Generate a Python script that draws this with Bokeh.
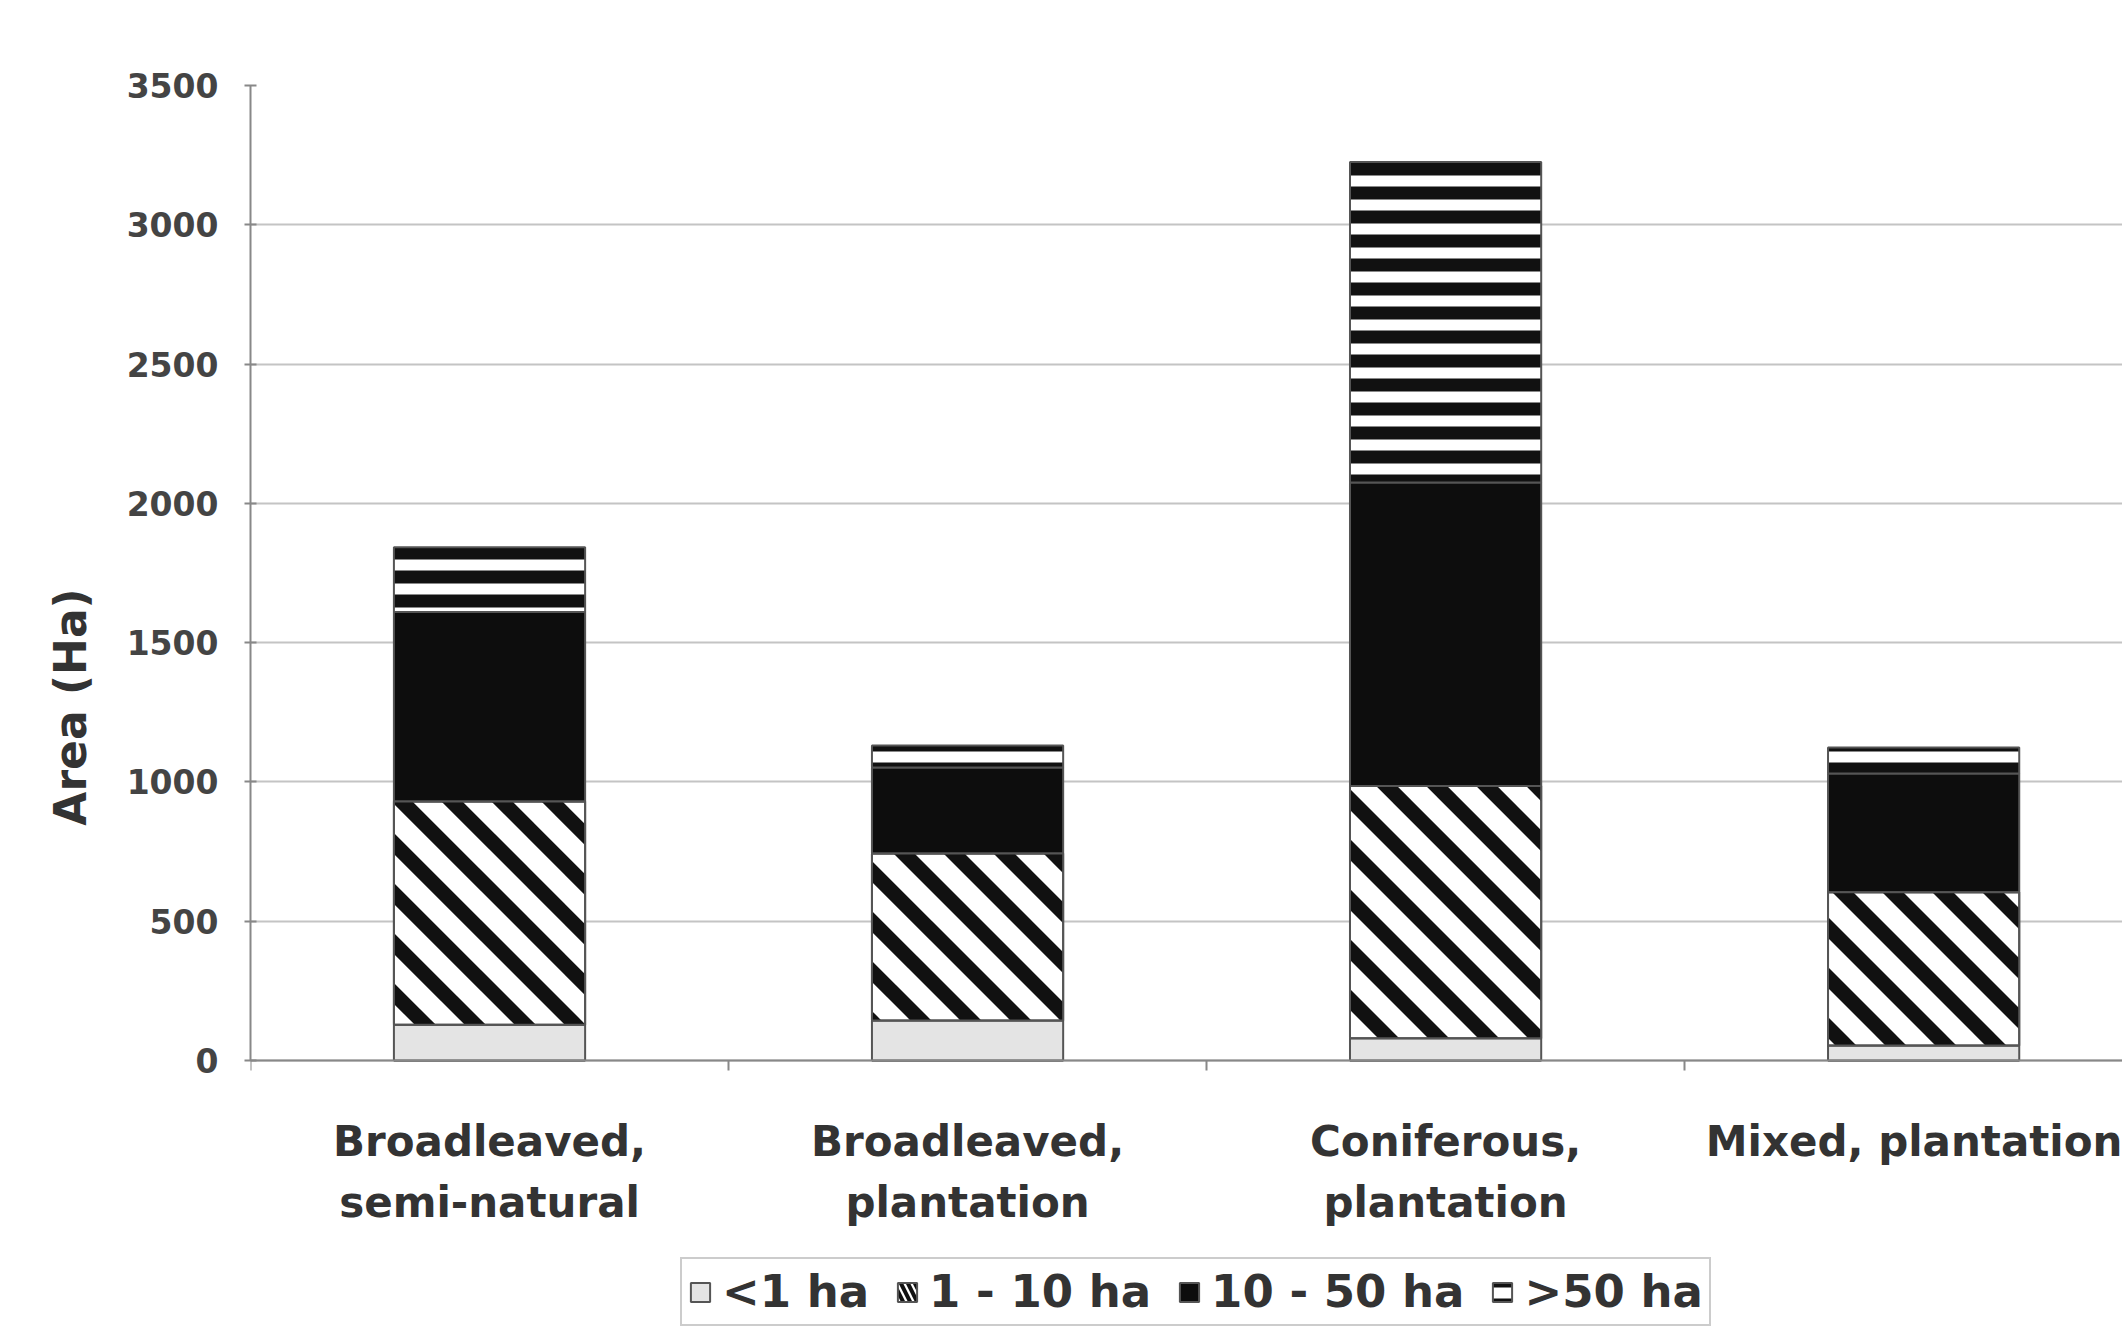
import math
from bokeh.plotting import figure
from bokeh.models import ColumnDataSource, FixedTicker, Range1d, Legend, LegendItem
from bokeh.transform import stack
from bokeh.embed import file_html
from bokeh.resources import INLINE

# ---- data ----
categories = ["Broadleaved,\nsemi-natural", "Broadleaved,\nplantation",
              "Coniferous,\nplantation", "Mixed, plantation"]
series = ["<1 ha", "1 - 10 ha", "10 - 50 ha", ">50 ha"]
lt1 = [128, 144, 80, 54]
s1_10 = [802, 599, 905, 550]
s10_50 = [680, 309, 1090, 426]
gt50 = [232, 79, 1150, 94]
y_ticks = [0, 500, 1000, 1500, 2000, 2500, 3000, 3500]

keys = ["lt1", "s1_10", "s10_50", "gt50"]
xpos = [i + 0.5 for i in range(len(categories))]
src = ColumnDataSource(dict(x=xpos, lt1=lt1, s1_10=s1_10, s10_50=s10_50, gt50=gt50))

FONT = "DejaVu Sans"
W, H = 2122, 1328
LEFT, TOP, BOTTOM_AXIS = 250, 85, 1060
XMAX = 3.916
YMAX = y_ticks[-1]
ymin = -(H - BOTTOM_AXIS) * YMAX / (BOTTOM_AXIS - TOP)
BAR_W = 0.4

p = figure(width=W, height=H, x_range=Range1d(0, XMAX), y_range=Range1d(ymin, YMAX),
           output_backend="svg", toolbar_location=None,
           min_border_left=LEFT, min_border_right=0, min_border_top=TOP, min_border_bottom=0)
p.outline_line_color = None
p.background_fill_color = "white"
p.border_fill_color = "white"

# legend-only glyph for the hatched series (zero height, sits on the baseline)
leg_hatch = p.vbar(x="x", width=BAR_W, bottom=0, top=0, source=src,
                   fill_color="white", line_color="#555555", line_width=2,
                   hatch_pattern="left_diagonal_line", hatch_color="#111111", hatch_weight=4, hatch_scale=14)

styles = [
    dict(fill_color="#e4e4e4"),
    dict(fill_color="white"),
    dict(fill_color="#0d0d0d"),
    dict(fill_color="#111111", hatch_pattern="horizontal_line", hatch_color="white", hatch_weight=11, hatch_scale=24),
]

renderers = []
for i, k in enumerate(keys):
    r = p.vbar(x="x", width=BAR_W, bottom=stack(*keys[:i]), top=stack(*keys[:i + 1]), source=src,
               line_color="#555555", line_width=2, **styles[i])
    renderers.append(r)

# 45-degree "\" stripes for the 1 - 10 ha segments (computed from the bar data)
sx = (W - LEFT) / XMAX          # px per x unit
sy = (BOTTOM_AXIS - TOP) / YMAX  # px per y unit
PERIOD, THICK = 50.0, 21.0


def clip_half(poly, f):
    out = []
    n = len(poly)
    for j in range(n):
        P, Q = poly[j], poly[(j + 1) % n]
        fp, fq = f(P), f(Q)
        if fp >= 0:
            out.append(P)
        if (fp >= 0) != (fq >= 0):
            t = fp / (fp - fq)
            out.append((P[0] + t * (Q[0] - P[0]), P[1] + t * (Q[1] - P[1])))
    return out


sxs, sys_ = [], []
for xc, b, h in zip(xpos, lt1, s1_10):
    u0, u1 = (xc - BAR_W / 2) * sx, (xc + BAR_W / 2) * sx
    v0, v1 = b * sy, (b + h) * sy
    rect = [(u0, v0), (u1, v0), (u1, v1), (u0, v1)]
    kmin = math.floor((u0 + v0) / PERIOD) - 1
    kmax = math.ceil((u1 + v1) / PERIOD) + 1
    for kk in range(kmin, kmax + 1):
        a = kk * PERIOD
        poly = clip_half(rect, lambda q, a=a: q[0] + q[1] - a)
        if len(poly) < 3:
            continue
        poly = clip_half(poly, lambda q, a=a: a + THICK - (q[0] + q[1]))
        if len(poly) < 3:
            continue
        sxs.append([q[0] / sx for q in poly])
        sys_.append([q[1] / sy for q in poly])

p.patches(xs=sxs, ys=sys_, fill_color="#111111", line_color=None)
# outline of the hatched segments on top
p.vbar(x="x", width=BAR_W, bottom=stack(*keys[:1]), top=stack(*keys[:2]), source=src,
       fill_alpha=0, line_color="#555555", line_width=2)

legend_renderers = [renderers[0], leg_hatch, renderers[2], renderers[3]]

# axes
p.xgrid.visible = False
p.ygrid.grid_line_color = "#c4c4c4"
p.ygrid.grid_line_width = 2

xa = p.xaxis[0]
xa.fixed_location = 0
xa.ticker = FixedTicker(ticks=xpos, minor_ticks=list(range(len(categories) + 1)))
xa.major_label_overrides = {x: c for x, c in zip(xpos, categories)}
xa.major_tick_line_color = None
xa.major_tick_out = 6
xa.minor_tick_in = 0
xa.minor_tick_out = 10
xa.minor_tick_line_color = "#888888"
xa.minor_tick_line_width = 2
xa.axis_line_color = "#888888"
xa.axis_line_width = 2
xa.major_label_text_font = FONT
xa.major_label_text_font_style = "bold"
xa.major_label_text_font_size = "42px"
xa.major_label_text_color = "#333333"
xa.major_label_text_line_height = 1.26
xa.major_label_standoff = 46

ya = p.yaxis[0]
ya.bounds = (0, YMAX)
ya.ticker = FixedTicker(ticks=y_ticks)
ya.major_tick_in = 6
ya.major_tick_out = 6
ya.major_tick_line_color = "#888888"
ya.major_tick_line_width = 2
ya.minor_tick_line_color = None
ya.axis_line_color = "#888888"
ya.axis_line_width = 2
ya.major_label_text_font = FONT
ya.major_label_text_font_style = "bold"
ya.major_label_text_font_size = "33px"
ya.major_label_text_color = "#444444"
ya.major_label_standoff = 26
ya.axis_label = "Area (Ha)"
ya.axis_label_text_font = FONT
ya.axis_label_text_font_style = "bold"
ya.axis_label_text_font_size = "44px"
ya.axis_label_text_color = "#333333"
ya.axis_label_standoff = 28

legend = Legend(items=[LegendItem(label=s, renderers=[r]) for s, r in zip(series, legend_renderers)],
                orientation="horizontal", location=(430, 2),
                glyph_width=24, glyph_height=24, label_standoff=10, spacing=26, padding=6,
                label_text_font=FONT, label_text_font_style="bold", label_text_font_size="45px",
                label_text_color="#333333", border_line_color="#999999", border_line_width=2,
                background_fill_color="white", margin=0)
p.add_layout(legend)

open("out.html", "w").write(file_html(p, INLINE))
